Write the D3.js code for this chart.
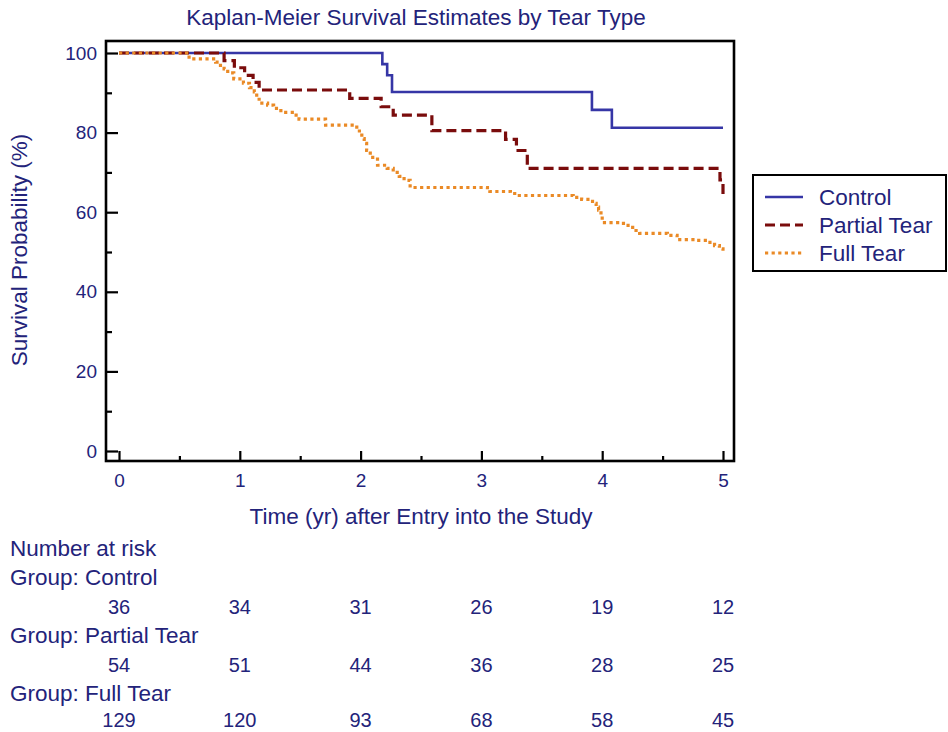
<!DOCTYPE html>
<html>
<head>
<meta charset="utf-8">
<script src="https://cdn.jsdelivr.net/npm/d3@7"></script>
<style>
  html, body { margin: 0; padding: 0; background: #fff; }
  svg { display: block; }
  text { font-family: "Liberation Sans", Arial, sans-serif; fill: #23237a; }
</style>
</head>
<body>
<svg id="chart" width="948" height="732"></svg>
<script>
// ---------- data ----------
const title = "Kaplan-Meier Survival Estimates by Tear Type";
const xLabel = "Time (yr) after Entry into the Study";
const yLabel = "Survival Probability (%)";
const groups = ["Control", "Partial Tear", "Full Tear"];

const controlTime = [0, 2.18, 2.22, 2.26, 3.915, 4.08, 5.0];
const controlSurv = [100, 97.2, 94.4, 90.2, 85.7, 81.2, 81.2];

const partialTime = [0, 0.87, 0.955, 1.04, 1.11, 1.16, 1.91, 2.17, 2.27, 2.59, 3.2, 3.29, 3.38, 4.975, 5.0];
const partialSurv = [100, 98.1, 96.3, 94.4, 92.6, 90.7, 88.6, 86.5, 84.4, 80.5, 78.3, 75.5, 71.0, 68.1, 63.5];

const fullTime = [0, 0.58, 0.8, 0.84, 0.87, 0.9, 0.95, 1.03, 1.08, 1.12, 1.14, 1.16, 1.23, 1.28, 1.34, 1.45, 1.49,
  1.71, 1.95, 1.99, 2.01, 2.03, 2.05, 2.08, 2.14, 2.22, 2.27, 2.32, 2.36, 2.41, 3.05, 3.07, 3.24, 3.3, 3.76, 3.83,
  3.92, 3.95, 3.97, 3.99, 4.0, 4.15, 4.2, 4.23, 4.28, 4.31, 4.54, 4.62, 4.78, 4.87, 4.93, 4.97, 5.0];
const fullSurv = [100, 98.5, 97.7, 96.9, 96.0, 95.0, 93.5, 92.4, 91.3, 90.2, 88.8, 87.4, 86.9, 86.1, 85.1, 84.4, 83.4,
  81.9, 81.4, 79.8, 78.5, 77.3, 75.5, 73.8, 71.8, 71.0, 70.0, 69.0, 68.0, 66.2, 65.7, 65.2, 64.7, 64.2, 63.7, 63.2,
  62.2, 61.3, 60.5, 59.0, 57.4, 57.2, 56.7, 56.2, 55.4, 54.7, 54.2, 53.1, 52.9, 52.4, 51.6, 50.8, 49.5];

const xTicks = [0, 1, 2, 3, 4, 5];
const xMinorTicks = [0.5, 1.5, 2.5, 3.5, 4.5];
const yTicks = [0, 20, 40, 60, 80, 100];
const yMinorTicks = [10, 30, 50, 70, 90];

const riskTimes = [0, 1, 2, 3, 4, 5];
const riskControl = [36, 34, 31, 26, 19, 12];
const riskPartial = [54, 51, 44, 36, 28, 25];
const riskFull = [129, 120, 93, 68, 58, 45];

// ---------- layout ----------
const svg = d3.select("#chart");
const frame = { left: 106, top: 41, right: 734, bottom: 461 };
const x = d3.scaleLinear().domain([0, 5]).range([119, 723]);
const y = d3.scaleLinear().domain([0, 100]).range([451, 53]);

const styles = [
  { color: "#3636a6", dash: null, width: 2.6 },
  { color: "#7a0c0c", dash: "10,5", width: 3.2 },
  { color: "#ea8a26", dash: "3.2,3.4", width: 3.2 }
];

// title
svg.append("text").attr("x", 416).attr("y", 25).attr("text-anchor", "middle")
  .style("font-size", "22.5px").text(title);

// axes
const yAxis = d3.axisLeft(y).tickValues(yTicks).tickSizeInner(-12).tickSizeOuter(0).tickPadding(9).tickFormat(d3.format("d"));
const yAxisMinor = d3.axisLeft(y).tickValues(yMinorTicks).tickSizeInner(-6).tickSizeOuter(0).tickFormat("");
const xAxis = d3.axisBottom(x).tickValues(xTicks).tickSizeInner(-10).tickSizeOuter(0).tickPadding(13).tickFormat(d3.format("d"));
const xAxisMinor = d3.axisBottom(x).tickValues(xMinorTicks).tickSizeInner(-5).tickSizeOuter(0).tickFormat("");

function styleAxis(g) {
  g.select(".domain").remove();
  g.selectAll("line").attr("stroke", "#000").attr("stroke-width", 2.2);
  g.selectAll("text").style("font-size", "19px").attr("fill", "#23237a")
    .style("font-family", '"Liberation Sans", Arial, sans-serif');
}
svg.append("g").attr("transform", `translate(${frame.left},0)`).call(yAxis).call(styleAxis);
svg.append("g").attr("transform", `translate(${frame.left},0)`).call(yAxisMinor).call(styleAxis);
svg.append("g").attr("transform", `translate(0,${frame.bottom})`).call(xAxis).call(styleAxis);
svg.append("g").attr("transform", `translate(0,${frame.bottom})`).call(xAxisMinor).call(styleAxis);

// curves
const series = [
  { t: controlTime, s: controlSurv },
  { t: partialTime, s: partialSurv },
  { t: fullTime, s: fullSurv }
];
const line = d3.line().x(d => x(d[0])).y(d => y(d[1])).curve(d3.curveStepAfter);
series.forEach((ser, i) => {
  const pts = ser.t.map((t, j) => [t, ser.s[j]]);
  svg.append("path").datum(pts).attr("d", line)
    .attr("fill", "none").attr("stroke", styles[i].color)
    .attr("stroke-width", styles[i].width)
    .attr("stroke-dasharray", styles[i].dash);
});

// frame
svg.append("rect").attr("x", frame.left).attr("y", frame.top)
  .attr("width", frame.right - frame.left).attr("height", frame.bottom - frame.top)
  .attr("fill", "none").attr("stroke", "#000").attr("stroke-width", 2.6);

// axis titles
svg.append("text").attr("x", 421).attr("y", 524).attr("text-anchor", "middle")
  .style("font-size", "22.5px").text(xLabel);
svg.append("text").attr("transform", "translate(27,250) rotate(-90)").attr("text-anchor", "middle")
  .style("font-size", "22.5px").text(yLabel);

// legend
const lg = svg.append("g");
lg.append("rect").attr("x", 753).attr("y", 175).attr("width", 193).attr("height", 96)
  .attr("fill", "#fff").attr("stroke", "#000").attr("stroke-width", 2);
groups.forEach((g, i) => {
  const yy = 197 + i * 28;
  lg.append("line").attr("x1", 765).attr("x2", 803).attr("y1", yy).attr("y2", yy)
    .attr("stroke", styles[i].color).attr("stroke-width", styles[i].width)
    .attr("stroke-dasharray", styles[i].dash);
  lg.append("text").attr("x", 819).attr("y", yy + 8).style("font-size", "22.5px").text(g);
});

// number at risk table
const tbl = svg.append("g");
tbl.append("text").attr("x", 10).attr("y", 556).style("font-size", "22.5px").text("Number at risk");
const riskRows = [riskControl, riskPartial, riskFull];
groups.forEach((g, i) => {
  const base = 585 + i * 58;
  tbl.append("text").attr("x", 10).attr("y", base).style("font-size", "22.5px").text("Group: " + g);
  tbl.selectAll(null).data(riskRows[i]).enter().append("text")
    .attr("x", (d, j) => x(riskTimes[j])).attr("y", Math.min(base + 29, 727))
    .attr("text-anchor", "middle").style("font-size", "20px").text(d => d);
});
</script>
</body>
</html>
